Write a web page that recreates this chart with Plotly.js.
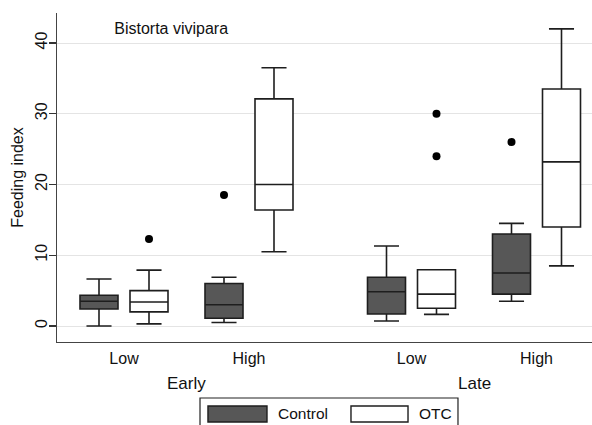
<!DOCTYPE html>
<html>
<head>
<meta charset="utf-8">
<script src="https://cdn.plot.ly/plotly-3.0.1.min.js"></script>
<style>html,body{margin:0;padding:0;background:#fff}#chart{width:592px;height:425px}</style>
</head>
<body>
<div id="chart"></div>
<script>
// ---- data ----
const periods = ['Early', 'Late'];
const levels = ['Low', 'High'];
const treatments = ['Control', 'OTC'];
// groups in order: Early-Low, Early-High, Late-Low, Late-High
const controlLower  = [0.0, 0.5, 0.7, 3.5];
const controlQ1     = [2.4, 1.1, 1.7, 4.5];
const controlMedian = [3.5, 3.0, 4.85, 7.5];
const controlQ3     = [4.35, 6.0, 6.9, 13.0];
const controlUpper  = [6.65, 6.9, 11.3, 14.5];
const controlOutlierGroup = [1, 3];
const controlOutlierValue = [18.5, 26.0];

const otcLower  = [0.3, 10.5, 1.65, 8.5];
const otcQ1     = [2.0, 16.4, 2.5, 14.0];
const otcMedian = [3.4, 20.0, 4.5, 23.2];
const otcQ3     = [5.0, 32.1, 7.96, 33.5];
const otcUpper  = [7.9, 36.5, 7.96, 42.0];
const otcOutlierGroup = [0, 2, 2];
const otcOutlierValue = [12.3, 30.0, 24.0];

const yTicks = [0, 10, 20, 30, 40];
const chartTitle = 'Bistorta vivipara';
const yTitle = 'Feeding index';

// ---- layout helpers ----
function pos(g, t) {
  const p = Math.floor(g / 2), l = g % 2;
  return 1 + p * 5.75 + l * 2.5 + t * 1;
}
const groupIdx = [0, 1, 2, 3];
const font = 'Liberation Sans, Arial, sans-serif';

function boxTrace(t, lower, q1, med, q3, upper, fill) {
  return {
    type: 'box', name: treatments[t],
    x: groupIdx.map(g => pos(g, t)),
    lowerfence: lower, q1: q1, median: med, q3: q3, upperfence: upper,
    width: 0.76, whiskerwidth: 0.66,
    fillcolor: fill,
    line: {color: '#1e1e1e', width: 1.6},
    boxpoints: false, hoverinfo: 'skip', showlegend: false
  };
}
function outTrace(t, grp, vals) {
  return {
    type: 'scatter', mode: 'markers',
    x: grp.map(g => pos(g, t)), y: vals,
    marker: {color: '#000', size: 8},
    showlegend: false, hoverinfo: 'skip'
  };
}

const traces = [
  boxTrace(0, controlLower, controlQ1, controlMedian, controlQ3, controlUpper, '#575757'),
  boxTrace(1, otcLower, otcQ1, otcMedian, otcQ3, otcUpper, '#ffffff'),
  outTrace(0, controlOutlierGroup, controlOutlierValue),
  outTrace(1, otcOutlierGroup, otcOutlierValue)
];

const tickPos = [], tickText = [];
for (let g = 0; g < 4; g++) {
  tickPos.push((pos(g, 0) + pos(g, 1)) / 2);
  tickText.push(levels[g % 2]);
}

const annotations = periods.map((p, i) => ({
  text: p, xref: 'x', yref: 'paper',
  x: (pos(2 * i, 0) + pos(2 * i + 1, 1)) / 2, y: -0.125,
  xanchor: 'center', yanchor: 'middle', showarrow: false,
  font: {family: font, size: 17, color: '#111'}
}));
// legend labels
annotations.push({text: treatments[0], xref: 'paper', yref: 'paper', x: 0.4093, y: -0.2188,
  xanchor: 'left', yanchor: 'middle', showarrow: false, font: {family: font, size: 15.5, color: '#111'}});
annotations.push({text: treatments[1], xref: 'paper', yref: 'paper', x: 0.6729, y: -0.2188,
  xanchor: 'left', yanchor: 'middle', showarrow: false, font: {family: font, size: 15.5, color: '#111'}});

const shapes = [
  {type: 'rect', xref: 'paper', yref: 'paper', x0: 0.2673, x1: 0.7495, y0: -0.1702, y1: -0.30,
   line: {color: '#222', width: 1.2}, fillcolor: 'rgba(0,0,0,0)'},
  {type: 'rect', xref: 'paper', yref: 'paper', x0: 0.2822, x1: 0.3925, y0: -0.1945, y1: -0.2432,
   line: {color: '#1e1e1e', width: 1.4}, fillcolor: '#575757'},
  {type: 'rect', xref: 'paper', yref: 'paper', x0: 0.5495, x1: 0.6561, y0: -0.1945, y1: -0.2432,
   line: {color: '#1e1e1e', width: 1.4}, fillcolor: '#ffffff'}
];

const layout = {
  width: 592, height: 425,
  margin: {l: 57, r: 0, t: 13, b: 83},
  paper_bgcolor: '#fff', plot_bgcolor: '#fff',
  font: {family: font, size: 16, color: '#111'},
  title: {text: chartTitle, x: 0.193, xanchor: 'left', xref: 'container',
          y: 0.934, yanchor: 'middle', yref: 'container',
          font: {family: font, size: 16, color: '#111'}},
  showlegend: false,
  xaxis: {
    range: [0.16, 10.86], showgrid: false, zeroline: false,
    showline: true, linecolor: '#444', linewidth: 1.2,
    tickvals: tickPos, ticktext: tickText, ticks: '',
    ticklabelstandoff: 2,
    tickfont: {family: font, size: 16, color: '#111'}
  },
  yaxis: {
    range: [-2.26, 44.24], tickvals: yTicks, ticktext: yTicks.map(String),
    tickangle: -90, ticks: 'outside', ticklen: 7, tickcolor: '#333', tickwidth: 1.2,
    ticklabelstandoff: -5,
    showgrid: true, gridcolor: '#e4e4e4', gridwidth: 1, zeroline: false,
    showline: true, linecolor: '#444', linewidth: 1.2,
    tickfont: {family: font, size: 16, color: '#111'},
    title: {text: yTitle, standoff: 5, font: {family: font, size: 16, color: '#111'}}
  },
  annotations: annotations,
  shapes: shapes
};

Plotly.newPlot('chart', traces, layout, {displayModeBar: false, staticPlot: true});
</script>
</body>
</html>
